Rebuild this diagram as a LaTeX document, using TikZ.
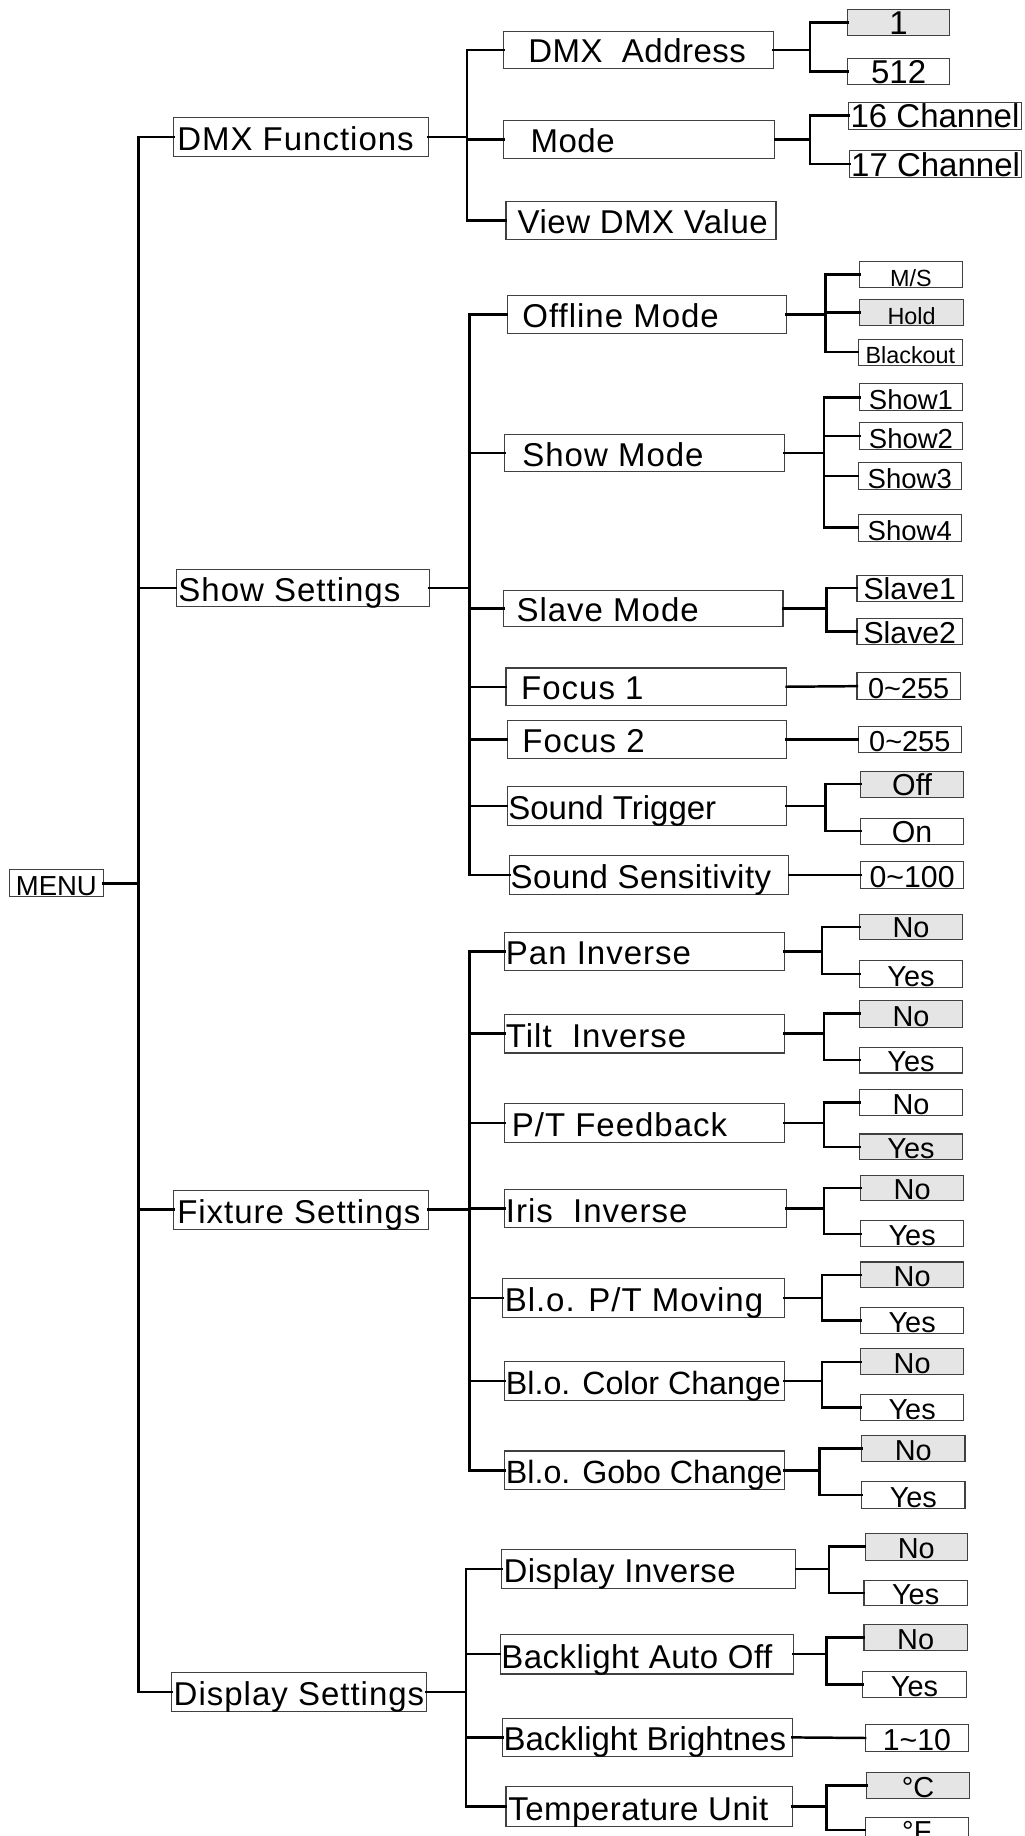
\documentclass[tikz,border=0pt]{standalone}
\usepackage{fontspec}
\setmainfont{Liberation Sans}
\newfontfamily\lsA[LetterSpace=3]{Liberation Sans}
\newfontfamily\lsB[LetterSpace=1.5]{Liberation Sans}
\newcommand\lsP{\rmfamily}
\newcommand\lsS{\rmfamily\fontsize{23.4}{24}\selectfont}
\newdimen\pxu \pxu=0.03cm
\tikzset{
  mbox/.style={draw=black!75, line width=0.8pt, inner sep=0pt, outer sep=0pt},
  selbox/.style={fill=black!10},
  conn/.style={line width=1.8pt, line cap=rect},
}
% level box: name x1 y1 x2 y2 offset fontfamily text
\newcommand\lvbox[8]{%
  \pgfmathsetmacro\bw{(#4-#2)*0.03}%
  \pgfmathsetmacro\bh{(#5-#3)*0.03}%
  \pgfmathsetmacro\bt{(#5-#3-5)*0.03}%
  \node[mbox, anchor=north west, minimum width=\bw cm, minimum height=\bh cm,
        text height=\bt cm, text depth=0.15cm, font={\fontsize{24}{24}\selectfont#7}]
        (#1) at (#2,#3) {\makebox[\bw cm][l]{\hspace*{#6\pxu}#8}};%
}
% option box: name x1 y1 x2 y2 style size text
\newcommand\opbox[8]{%
  \pgfmathsetmacro\bw{(#4-#2)*0.03}%
  \pgfmathsetmacro\bh{(#5-#3)*0.03}%
  \pgfmathsetmacro\bt{(#5-#3-1)*0.03}%
  \node[mbox, #6, anchor=north west, minimum width=\bw cm, minimum height=\bh cm,
        text height=\bt cm, text depth=0.03cm, font=\fontsize{#7}{#7}\selectfont]
        (#1) at (#2,#3) {\makebox[\bw cm][c]{#8}};%
}
% branch: parent trunk first last list
\newcommand\branch[5]{%
  \draw[conn] (#1.east) -- (#1.east -| #2);
  \draw[conn] (#3.west -| #2) -- (#4.west -| #2);
  \foreach \c in {#5} {\draw[conn] (\c.west) -- (\c.west -| #2);}
}
\begin{document}
\begin{tikzpicture}[x=0.03cm, y=-0.03cm]
\useasboundingbox (0,0) rectangle (873,1564);

% root
\opbox{menu}{8}{741}{88}{764}{}{20}{MENU}
\coordinate (t0) at (118,0);

% level 1
\lvbox{dmx}{148}{100}{365}{133}{3}{\lsA}{DMX Functions}
\lvbox{show}{150}{485}{366}{517}{2}{\lsA}{Show Settings}
\lvbox{fix}{148}{1014}{365}{1047}{3}{\lsA}{Fixture Settings}
\lvbox{disp}{146}{1425}{363}{1458}{2}{\lsA}{Display Settings}
\branch{menu}{t0}{dmx}{disp}{dmx,show,fix,disp}

% DMX functions
\coordinate (t1) at (398,0);
\lvbox{dmxaddr}{429}{27}{659}{58}{21}{\lsB}{DMX\ \ Address}
\lvbox{mode}{429}{103}{660}{135}{23}{\lsB}{Mode}
\lvbox{view}{431}{172}{661}{204}{10}{\lsB}{View DMX Value}
\branch{dmx}{t1}{dmxaddr}{view}{dmxaddr,mode,view}

\coordinate (t11) at (690,0);
\opbox{a1}{722}{8}{809}{30}{selbox}{24}{1}
\opbox{a512}{722}{50}{809}{72}{}{24}{512}
\branch{dmxaddr}{t11}{a1}{a512}{a1,a512}
\opbox{ch16}{723}{87}{870}{110}{}{24}{16 Channel}
\opbox{ch17}{724}{128}{870}{151}{}{24}{17 Channel}
\branch{mode}{t11}{ch16}{ch17}{ch16,ch17}

% Show settings
\coordinate (t2) at (400,0);
\lvbox{offm}{432}{252}{670}{284}{13}{\lsA}{Offline Mode}
\lvbox{smode}{430}{370}{668}{402}{15}{\lsA}{Show Mode}
\lvbox{slave}{429}{503}{667}{534}{11}{\lsA}{Slave Mode}
\lvbox{foc1}{431}{569}{670}{601}{13}{\lsA}{Focus 1}
\lvbox{foc2}{432}{614}{670}{646}{13}{\lsA}{Focus 2}
\lvbox{strig}{432}{670}{670}{703}{1}{\lsP}{Sound Trigger}
\lvbox{ssens}{434}{729}{672}{762}{1}{\lsB}{Sound Sensitivity}
\branch{show}{t2}{offm}{ssens}{offm,smode,slave,foc1,foc2,strig,ssens}

\coordinate (t21) at (703,0);
\opbox{ms}{732}{223}{820}{245}{}{17}{M/S}
\opbox{hold}{732}{255}{821}{277}{selbox}{17}{Hold}
\opbox{blk}{731}{289}{820}{311}{}{17}{Blackout}
\branch{offm}{t21}{ms}{blk}{ms,hold,blk}
\coordinate (t22) at (702,0);
\opbox{sh1}{732}{327}{820}{350}{}{20}{Show1}
\opbox{sh2}{732}{360}{820}{383}{}{20}{Show2}
\opbox{sh3}{731}{394}{819}{417}{}{20}{Show3}
\opbox{sh4}{731}{438}{819}{461}{}{20}{Show4}
\branch{smode}{t22}{sh1}{sh4}{sh1,sh2,sh3,sh4}
\coordinate (t23) at (704,0);
\opbox{sl1}{730}{490}{820}{512}{}{22}{Slave1}
\opbox{sl2}{730}{527}{820}{549}{}{22}{Slave2}
\branch{slave}{t23}{sl1}{sl2}{sl1,sl2}
\opbox{v1}{730}{573}{818}{596}{}{21}{0\textasciitilde255}
\draw[conn] (foc1.east) -- (v1.west);
\opbox{v2}{731}{619}{819}{641}{}{21}{0\textasciitilde255}
\draw[conn] (foc2.east) -- (v2.west);
\coordinate (t24) at (703,0);
\opbox{offo}{733}{657}{821}{679}{selbox}{22}{Off}
\opbox{ono}{733}{697}{821}{719}{}{22}{On}
\branch{strig}{t24}{offo}{ono}{offo,ono}
\opbox{v3}{733}{734}{821}{757}{}{22}{0\textasciitilde100}
\draw[conn] (ssens.east) -- (v3.west);

% Fixture settings
\coordinate (t3) at (400,0);
\lvbox{pan}{430}{794}{668}{827}{1}{\lsA}{Pan Inverse}
\lvbox{tilt}{430}{864}{668}{897}{1}{\lsA}{Tilt\ \ Inverse}
\lvbox{ptf}{430}{940}{668}{973}{6}{\lsA}{P/T Feedback}
\lvbox{iris}{430}{1013}{670}{1046}{1}{\lsA}{Iris\ \ Inverse}
\lvbox{blpt}{428}{1089}{668}{1122}{2}{\lsA}{Bl.o. P/T Moving}
\lvbox{blcol}{430}{1160}{668}{1193}{1}{\lsS}{Bl.o. Color Change}
\lvbox{blgob}{430}{1236}{668}{1269}{1}{\lsS}{Bl.o. Gobo Change}
\branch{fix}{t3}{pan}{blgob}{pan,tilt,ptf,iris,blpt,blcol,blgob}

\coordinate (t31) at (700,0);
\opbox{panN}{732}{779}{820}{800}{selbox}{21}{No}
\opbox{panY}{732}{818}{820}{841}{}{21}{Yes}
\branch{pan}{t31}{panN}{panY}{panN,panY}
\coordinate (t32) at (702,0);
\opbox{tiltN}{732}{852}{820}{875}{selbox}{21}{No}
\opbox{tiltY}{732}{892}{820}{914}{}{21}{Yes}
\branch{tilt}{t32}{tiltN}{tiltY}{tiltN,tiltY}
\opbox{ptfN}{732}{928}{820}{950}{}{21}{No}
\opbox{ptfY}{732}{966}{820}{988}{selbox}{21}{Yes}
\branch{ptf}{t32}{ptfN}{ptfY}{ptfN,ptfY}
\opbox{irisN}{733}{1001}{821}{1023}{selbox}{21}{No}
\opbox{irisY}{733}{1040}{821}{1062}{}{21}{Yes}
\branch{iris}{t32}{irisN}{irisY}{irisN,irisY}
\opbox{blptN}{733}{1075}{821}{1097}{selbox}{21}{No}
\opbox{blptY}{733}{1114}{821}{1136}{}{21}{Yes}
\branch{blpt}{t31}{blptN}{blptY}{blptN,blptY}
\opbox{blcolN}{733}{1149}{821}{1171}{selbox}{21}{No}
\opbox{blcolY}{733}{1188}{821}{1210}{}{21}{Yes}
\branch{blcol}{t31}{blcolN}{blcolY}{blcolN,blcolY}
\coordinate (t33) at (698,0);
\opbox{blgobN}{734}{1223}{822}{1245}{selbox}{21}{No}
\opbox{blgobY}{734}{1262}{822}{1285}{}{21}{Yes}
\branch{blgob}{t33}{blgobN}{blgobY}{blgobN,blgobY}

% Display settings
\coordinate (t4) at (397,0);
\lvbox{dinv}{427}{1320}{678}{1353}{2}{\lsB}{Display Inverse}
\lvbox{bao}{426}{1392}{676}{1426}{1}{\lsB}{Backlight Auto Off}
\lvbox{bbr}{428}{1464}{675}{1496}{1}{\lsP}{Backlight Brightnes}
\lvbox{tu}{431}{1522}{675}{1556}{2}{\lsB}{Temperature Unit}
\branch{disp}{t4}{dinv}{tu}{dinv,bao,bbr,tu}

\coordinate (t41) at (706,0);
\opbox{dinvN}{737}{1306}{824}{1329}{selbox}{21}{No}
\opbox{dinvY}{736}{1346}{824}{1368}{}{21}{Yes}
\branch{dinv}{t41}{dinvN}{dinvY}{dinvN,dinvY}
\coordinate (t42) at (704,0);
\opbox{baoN}{736}{1384}{824}{1406}{selbox}{21}{No}
\opbox{baoY}{735}{1424}{823}{1446}{}{21}{Yes}
\branch{bao}{t42}{baoN}{baoY}{baoN,baoY}
\opbox{b110}{737}{1469}{825}{1492}{}{22}{1\textasciitilde10}
\draw[conn] (bbr.east) -- (b110.west);
\opbox{degC}{738}{1510}{826}{1532}{selbox}{21}{°C}
\opbox{degF}{737}{1548}{825}{1570}{}{21}{°F}
\branch{tu}{t42}{degC}{degF}{degC,degF}
\end{tikzpicture}
\end{document}
